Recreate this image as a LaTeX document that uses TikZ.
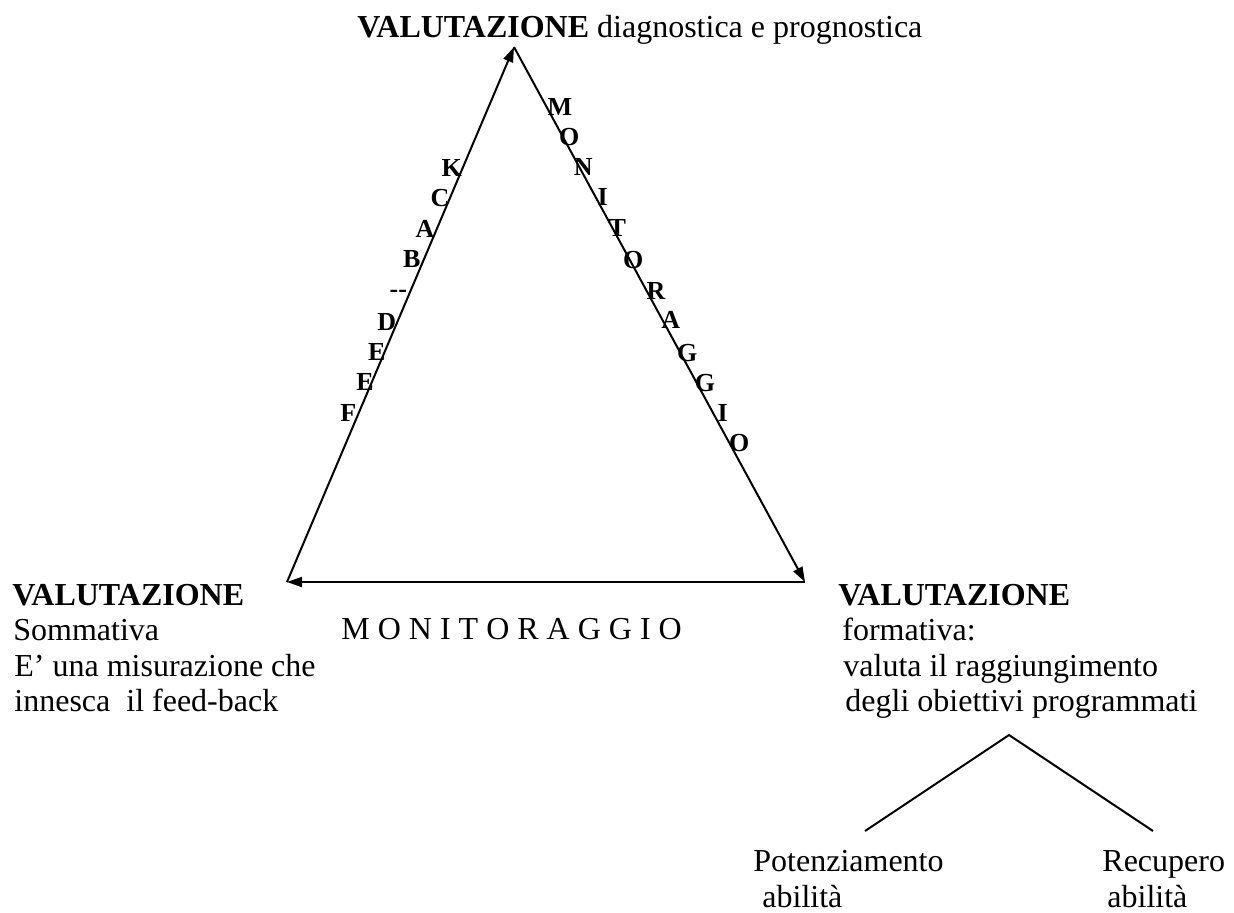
\documentclass[tikz,border=0pt]{standalone}
\usepackage{fontspec}
\setmainfont{Liberation Serif}
\usetikzlibrary{arrows.meta}

\tikzset{
  testo/.style={inner sep=0pt, anchor=base west, font=\fontsize{16}{18}\selectfont},
  lettera/.style={inner sep=0pt, font=\fontsize{13}{15}\selectfont\bfseries},
  freccia/.style={line width=1pt, -{Triangle[length=7.5pt,width=5pt]}},
  ramo/.style={line width=1pt}
}

\begin{document}
\begin{tikzpicture}[x=0.5pt, y=-0.5pt]
        \useasboundingbox (0,0) rectangle (1234,912);

        % vertici del triangolo
        \coordinate (apice) at (514,47);
        \coordinate (sx) at (287,582);
        \coordinate (dx) at (805,582);

        \draw[freccia] (apice) -- (dx);
        \draw[freccia] (dx) -- (sx);
        \draw[freccia] (sx) -- (apice);

        % testi ai vertici
        \node[testo] (diagn) at (357,37) {\textbf{VALUTAZIONE} diagnostica e prognostica};

        \node[testo] (somm1) at (12,605) {\textbf{VALUTAZIONE}};
        \node[testo] (somm2) at (13,640) {Sommativa};
        \node[testo] (somm3) at (14,676) {E’ una misurazione che};
        \node[testo] (somm4) at (14,711) {innesca\ \ il feed-back};

        \node[testo] (form1) at (838,605) {\textbf{VALUTAZIONE}};
        \node[testo] (form2) at (842,640) {formativa:};
        \node[testo] (form3) at (843,676) {valuta il raggiungimento};
        \node[testo] (form4) at (845,711) {degli obiettivi programmati};

        \node[testo] (monit) at (341,639) {M O N I T O R A G G I O};

        % lato sinistro
        \node[lettera] (fb1) at (451.7,168.3) {K};
        \node[lettera] (fb2) at (440,198.3) {C};
        \node[lettera] (fb3) at (425,229.3) {A};
        \node[lettera] (fb4) at (411.7,259.3) {B};
        \node[lettera] (fb5) at (398.3,294) {-{}-};
        \node[lettera] (fb6) at (386.7,321.7) {D};
        \node[lettera] (fb7) at (376.7,351.7) {E};
        \node[lettera] (fb8) at (365,381.7) {E};
        \node[lettera] (fb9) at (348.3,412.7) {F};

        % lato destro
        \node[lettera] (mon1) at (560,106.7) {M};
        \node[lettera] (mon2) at (569.3,137.3) {O};
        \node[lettera] (mon3) at (583.3,167.3) {N};
        \node[lettera] (mon4) at (602.7,197.3) {I};
        \node[lettera] (mon5) at (617.3,228.3) {T};
        \node[lettera] (mon6) at (633.3,260) {O};
        \node[lettera] (mon7) at (656,290.7) {R};
        \node[lettera] (mon8) at (670.7,320) {A};
        \node[lettera] (mon9) at (687.3,353.3) {G};
        \node[lettera] (mon10) at (705,382.7) {G};
        \node[lettera] (mon11) at (722.7,413.3) {I};
        \node[lettera] (mon12) at (739.3,443.3) {O};

        % diramazione
        \coordinate (radice) at (1009,735);
        \coordinate (pot) at (865,831);
        \coordinate (rec) at (1153,831);
        \draw[ramo] (pot) -- (radice) -- (rec);

        \node[testo] (pot1) at (753,871) {Potenziamento};
        \node[testo] (pot2) at (762,907) {abilità};
        \node[testo] (rec1) at (1102,871) {Recupero};
        \node[testo] (rec2) at (1107,907) {abilità};
    \end{tikzpicture}
\end{document}
